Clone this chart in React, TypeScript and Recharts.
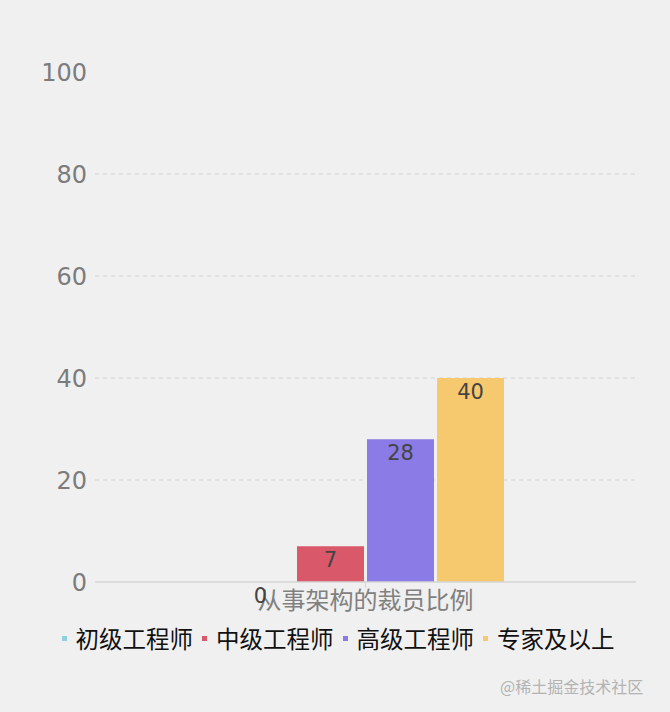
import React from 'react';
import { BarChart, Bar, XAxis, YAxis, CartesianGrid, Legend, LabelList } from 'recharts';

const categories = ['从事架构的裁员比例'];
const seriesNames = ['初级工程师', '中级工程师', '高级工程师', '专家及以上'];
const seriesKeys = ['junior', 'mid', 'senior', 'expert'];
const seriesColors = ['#8fd1e1', '#d9596a', '#8a7be6', '#f7c96f'];
const juniorValues = [0];
const midValues = [7];
const seniorValues = [28];
const expertValues = [40];
const yTicks = [0, 20, 40, 60, 80, 100];

const data = categories.map((name, i) => ({
  name,
  junior: juniorValues[i],
  mid: midValues[i],
  senior: seniorValues[i],
  expert: expertValues[i],
}));

const CJK = '"Noto Sans CJK SC", sans-serif';
const NUM = '"DejaVu Sans", sans-serif';

const LegendContent = () => (
  <div
    style={{
      display: 'flex',
      justifyContent: 'center',
      alignItems: 'center',
      height: 32,
      paddingLeft: 40,
      fontFamily: CJK,
      fontSize: 23.5,
      color: '#111',
    }}
  >
    {seriesNames.map((n, i) => (
      <div key={n} style={{ display: 'flex', alignItems: 'center', marginRight: i < seriesNames.length - 1 ? 9 : 0 }}>
        <span style={{ display: 'inline-block', width: 5, height: 5, background: seriesColors[i], marginRight: 9 }} />
        <span>{n}</span>
      </div>
    ))}
  </div>
);

export default function App() {
  return (
    <div style={{ position: 'fixed', left: 0, top: 0, width: 670, height: 712, background: '#f0f0f0' }}>
      <BarChart
        width={670}
        height={712}
        data={data}
        margin={{ top: 72, right: 34, left: 0, bottom: 58 }}
        barGap={3}
      >
        <CartesianGrid
          vertical={false}
          horizontalValues={[20, 40, 60, 80]}
          stroke="#d4d4d4"
          strokeDasharray="4 4"
        />
        <XAxis
          dataKey="name"
          height={40}
          axisLine={{ stroke: '#d6d6d6', strokeWidth: 1.5 }}
          tickLine={{ stroke: '#d6d6d6' }}
          tickMargin={4}
          tick={{ fill: '#808080', fontSize: 24, fontFamily: CJK }}
        />
        <YAxis
          width={95}
          domain={[0, 100]}
          ticks={yTicks}
          axisLine={false}
          tickLine={false}
          tick={{ fill: '#7c7c7c', fontSize: 24, fontFamily: NUM }}
        />
        <Legend verticalAlign="bottom" height={32} content={<LegendContent />} />
        {seriesKeys.map((k, i) => (
          <Bar
            key={k}
            dataKey={k}
            name={seriesNames[i]}
            fill={seriesColors[i]}
            barSize={67}
            minPointSize={0.01}
            isAnimationActive={false}
          >
            <LabelList
              dataKey={k}
              position="insideTop"
              offset={6}
              fill="#444"
              style={{ fontSize: 21, fontFamily: NUM }}
            />
          </Bar>
        ))}
      </BarChart>
      <div
        style={{
          position: 'absolute',
          left: 500,
          top: 674,
          fontFamily: CJK,
          fontSize: 16,
          color: '#b3b3b3',
          whiteSpace: 'nowrap',
        }}
      >
        @稀土掘金技术社区
      </div>
    </div>
  );
}
